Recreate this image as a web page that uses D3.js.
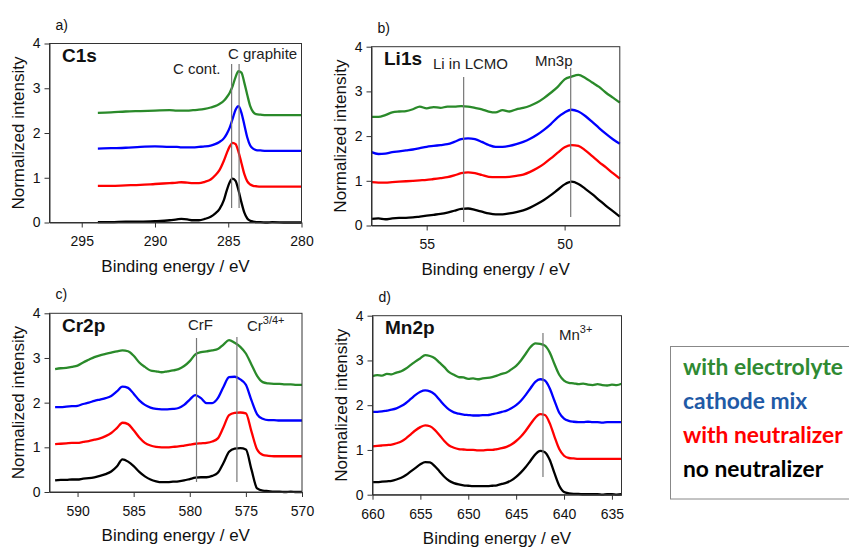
<!DOCTYPE html>
<html>
<head>
<meta charset="utf-8">
<script src="https://cdn.jsdelivr.net/npm/d3@7"></script>
<style>
  html, body { margin: 0; padding: 0; background: #fff; }
  svg { display: block; font-family: "Liberation Sans", Arial, sans-serif; }
</style>
</head>
<body>
<svg id="chart" width="849" height="547"></svg>
<script>
// ---------- series names and colours ----------
const seriesNames = ["no neutralizer", "with neutralizer", "cathode mix", "with electrolyte"];
const lineColors = ["#000000", "#ff0000", "#0000ff", "#2a8a2a"];
const legendNames = ["with electrolyte", "cathode mix", "with neutralizer", "no neutralizer"];
const legendColors = ["#2f8a32", "#1f5aa6", "#ff0000", "#000000"];

// ---------- a) C1s ----------
const c1sEnergy = [293.9, 293, 292, 291, 290, 289, 288.5, 288.2, 287.8, 287.4, 287, 286.6, 286.2, 285.9, 285.6, 285.3, 285.1, 284.9, 284.7, 284.5, 284.3, 284.1, 283.9, 283.7, 283.5, 283.3, 283.1, 282.8, 282.4, 282, 281, 280];
const c1sNoNeutralizer = [0.01, 0.01, 0.02, 0.02, 0.03, 0.05, 0.07, 0.08, 0.07, 0.05, 0.05, 0.08, 0.13, 0.2, 0.3, 0.5, 0.72, 0.9, 0.98, 0.93, 0.72, 0.45, 0.22, 0.09, 0.04, 0.02, 0.01, 0.01, 0.0, 0.01, 0.0, 0.0];
const c1sWithNeutralizer = [0.82, 0.82, 0.83, 0.84, 0.86, 0.88, 0.89, 0.9, 0.89, 0.88, 0.88, 0.91, 0.96, 1.05, 1.17, 1.38, 1.55, 1.7, 1.78, 1.75, 1.58, 1.33, 1.08, 0.92, 0.85, 0.82, 0.81, 0.8, 0.8, 0.8, 0.8, 0.8];
const c1sCathodeMix = [1.65, 1.66, 1.67, 1.69, 1.7, 1.69, 1.69, 1.68, 1.68, 1.68, 1.69, 1.7, 1.72, 1.75, 1.8, 1.88, 1.98, 2.12, 2.32, 2.52, 2.6, 2.45, 2.18, 1.9, 1.72, 1.65, 1.62, 1.61, 1.6, 1.6, 1.6, 1.6];
const c1sWithElectrolyte = [2.45, 2.46, 2.48, 2.49, 2.5, 2.51, 2.5, 2.5, 2.5, 2.51, 2.52, 2.54, 2.57, 2.6, 2.65, 2.72, 2.8, 2.9, 3.05, 3.25, 3.38, 3.35, 3.12, 2.85, 2.6, 2.47, 2.42, 2.41, 2.4, 2.4, 2.4, 2.4];
const c1sTicks = [295, 290, 285, 280];

// ---------- b) Li1s ----------
const li1sEnergy = [57, 56.75, 56.5, 56.25, 56, 55.75, 55.5, 55.25, 55, 54.75, 54.5, 54.25, 54, 53.75, 53.5, 53.25, 53, 52.75, 52.5, 52.25, 52, 51.75, 51.5, 51.25, 51, 50.75, 50.5, 50.25, 50, 49.75, 49.5, 49.25, 49, 48.75, 48.5, 48.25, 48];
const li1sNoNeutralizer = [0.15, 0.16, 0.14, 0.16, 0.17, 0.17, 0.18, 0.2, 0.22, 0.24, 0.26, 0.29, 0.33, 0.37, 0.38, 0.35, 0.31, 0.27, 0.25, 0.25, 0.27, 0.3, 0.34, 0.4, 0.48, 0.57, 0.68, 0.8, 0.92, 0.98, 0.93, 0.82, 0.7, 0.57, 0.44, 0.32, 0.2];
const li1sWithNeutralizer = [0.97, 0.96, 0.96, 0.97, 0.98, 0.99, 1.0, 1.01, 1.02, 1.04, 1.06, 1.08, 1.12, 1.17, 1.19, 1.17, 1.13, 1.09, 1.08, 1.08, 1.09, 1.11, 1.14, 1.2, 1.28, 1.38, 1.5, 1.63, 1.75, 1.8, 1.78, 1.68, 1.55, 1.42, 1.3, 1.17, 1.05];
const li1sCathodeMix = [1.64, 1.6, 1.61, 1.64, 1.66, 1.68, 1.7, 1.73, 1.76, 1.78, 1.8, 1.82, 1.87, 1.93, 1.95, 1.93, 1.87, 1.8, 1.76, 1.76, 1.78, 1.82, 1.87, 1.94, 2.03, 2.14, 2.27, 2.42, 2.53, 2.59, 2.55, 2.45, 2.32, 2.18, 2.05, 1.93, 1.83];
const li1sWithElectrolyte = [2.43, 2.43, 2.47, 2.53, 2.55, 2.56, 2.6, 2.66, 2.62, 2.65, 2.63, 2.66, 2.66, 2.67, 2.66, 2.63, 2.6, 2.55, 2.53, 2.58, 2.55, 2.6, 2.63, 2.68, 2.75, 2.85, 2.97, 3.1, 3.27, 3.33, 3.37, 3.3, 3.2, 3.1, 2.97, 2.86, 2.75];
const li1sTicks = [55, 50];

// ---------- c) Cr2p ----------
const cr2pEnergy = [592, 591.5, 591, 590.5, 590, 589.5, 589, 588.5, 588, 587.5, 587, 586.5, 586, 585.5, 585, 584.5, 584, 583.5, 583, 582.5, 582, 581.5, 581, 580.5, 580, 579.5, 579, 578.5, 578, 577.5, 577, 576.5, 576, 575.5, 575, 574.5, 574, 573.5, 573, 572.5, 572, 571.5, 571, 570.5, 570];
const cr2pNoNeutralizer = [0.26, 0.27, 0.27, 0.28, 0.28, 0.3, 0.31, 0.33, 0.36, 0.4, 0.46, 0.57, 0.73, 0.68, 0.58, 0.45, 0.35, 0.28, 0.24, 0.22, 0.22, 0.23, 0.24, 0.26, 0.29, 0.32, 0.33, 0.33, 0.36, 0.43, 0.65, 0.9, 0.97, 0.98, 0.95, 0.5, 0.08, 0.03, 0.02, 0.01, 0.01, 0.0, 0.01, 0.0, 0.0];
const cr2pWithNeutralizer = [1.07, 1.08, 1.09, 1.1, 1.1, 1.12, 1.14, 1.17, 1.2, 1.25, 1.32, 1.43, 1.55, 1.52, 1.38, 1.22, 1.1, 1.04, 1.01, 1.0, 1.0, 1.01, 1.02, 1.04, 1.06, 1.08, 1.09, 1.1, 1.13, 1.2, 1.45, 1.72, 1.77, 1.78, 1.76, 1.35, 0.95, 0.83, 0.81, 0.8, 0.8, 0.8, 0.8, 0.8, 0.8];
const cr2pCathodeMix = [1.9, 1.9, 1.91, 1.92, 1.93, 1.97, 2.0, 2.04, 2.07, 2.1, 2.15, 2.25, 2.36, 2.33, 2.2, 2.05, 1.95, 1.89, 1.86, 1.85, 1.85, 1.86, 1.88, 1.95, 2.07, 2.17, 2.1, 1.99, 1.99, 2.1, 2.35, 2.57, 2.58, 2.52, 2.4, 2.05, 1.74, 1.64, 1.61, 1.61, 1.6, 1.6, 1.6, 1.6, 1.6];
const cr2pWithElectrolyte = [2.75, 2.77, 2.78, 2.8, 2.83, 2.9, 2.96, 3.02, 3.06, 3.09, 3.12, 3.15, 3.17, 3.15, 3.05, 2.9, 2.8, 2.72, 2.7, 2.68, 2.7, 2.72, 2.75, 2.82, 2.93, 3.08, 3.13, 3.15, 3.17, 3.2, 3.3, 3.4, 3.34, 3.25, 3.1, 2.85, 2.6, 2.46, 2.43, 2.42, 2.42, 2.41, 2.41, 2.4, 2.4];
const cr2pTicks = [590, 585, 580, 575, 570];

// ---------- d) Mn2p ----------
const mn2pEnergy = [660, 659.5, 659, 658.5, 658, 657.5, 657, 656.5, 656, 655.5, 655, 654.5, 654, 653.5, 653, 652.5, 652, 651.5, 651, 650.5, 650, 649.5, 649, 648.5, 648, 647.5, 647, 646.5, 646, 645.5, 645, 644.5, 644, 643.5, 643, 642.5, 642, 641.5, 641, 640.5, 640, 639.5, 639, 638.5, 638, 637.5, 637, 636.5, 636, 635.5, 635, 634.5, 634];
const mn2pNoNeutralizer = [0.28, 0.28, 0.29, 0.3, 0.31, 0.34, 0.38, 0.44, 0.52, 0.6, 0.68, 0.73, 0.72, 0.64, 0.52, 0.4, 0.31, 0.26, 0.23, 0.21, 0.2, 0.19, 0.19, 0.19, 0.19, 0.2, 0.21, 0.24, 0.27, 0.32, 0.4, 0.5, 0.62, 0.76, 0.9, 0.98, 0.95, 0.78, 0.48, 0.2, 0.06, 0.03, 0.02, 0.02, 0.01, 0.01, 0.01, 0.01, 0.0, 0.01, 0.01, 0.0, 0.01];
const mn2pWithNeutralizer = [1.08, 1.09, 1.1, 1.11, 1.12, 1.15, 1.19, 1.26, 1.35, 1.44, 1.51, 1.55, 1.53, 1.45, 1.33, 1.2, 1.1, 1.05, 1.02, 1.01, 1.0, 1.0, 0.99, 0.99, 1.0, 1.0, 1.02, 1.04, 1.07, 1.12, 1.2, 1.3, 1.43, 1.58, 1.72, 1.8, 1.78, 1.6, 1.3, 1.02, 0.87, 0.82, 0.81, 0.8, 0.8, 0.8, 0.8, 0.8, 0.8, 0.8, 0.8, 0.8, 0.8];
const mn2pCathodeMix = [1.85, 1.85, 1.86, 1.88, 1.9, 1.93, 1.98, 2.05, 2.14, 2.23, 2.3, 2.33, 2.31, 2.24, 2.12, 2.0, 1.9, 1.84, 1.81, 1.79, 1.78, 1.77, 1.77, 1.78, 1.78, 1.8, 1.82, 1.85, 1.88, 1.93, 2.0, 2.1, 2.23, 2.38, 2.52, 2.58, 2.55, 2.38, 2.1, 1.83, 1.7, 1.65, 1.63, 1.62, 1.62, 1.63, 1.62, 1.62, 1.61, 1.62, 1.62, 1.62, 1.62];
const mn2pWithElectrolyte = [2.65, 2.67, 2.66, 2.7, 2.69, 2.73, 2.76, 2.82, 2.9, 2.98, 3.05, 3.12, 3.1, 3.05, 2.95, 2.85, 2.74, 2.68, 2.63, 2.62, 2.59, 2.6, 2.58, 2.6, 2.61, 2.63, 2.66, 2.7, 2.73, 2.8, 2.88, 3.0, 3.15, 3.3, 3.38, 3.37, 3.33, 3.18, 2.92, 2.68, 2.55, 2.5, 2.49, 2.47, 2.48, 2.46, 2.45, 2.47, 2.45, 2.44, 2.46, 2.45, 2.48];
const mn2pTicks = [660, 655, 650, 645, 640, 635];

const yTicks = [0, 1, 2, 3, 4];

// ---------- panel layout ----------
const panels = [
  { letter: "a)", name: "C1s", box: [49.5, 43.5, 301.5, 222.5], domain: [297.2, 280],
    energy: c1sEnergy, series: [c1sNoNeutralizer, c1sWithNeutralizer, c1sCathodeMix, c1sWithElectrolyte], ticks: c1sTicks,
    markers: [{ e: 284.77, y0: 64, y1: 208 }, { e: 284.26, y0: 64, y1: 208 }],
    notes: [{ t: "C cont.", x: 173, y: 74 }, { t: "C graphite", x: 228, y: 59 }] },
  { letter: "b)", name: "Li1s", box: [371.5, 46.7, 619.8, 225.5], domain: [57, 48],
    energy: li1sEnergy, series: [li1sNoNeutralizer, li1sWithNeutralizer, li1sCathodeMix, li1sWithElectrolyte], ticks: li1sTicks,
    markers: [{ e: 53.66, y0: 77, y1: 222 }, { e: 49.78, y0: 68, y1: 217 }],
    notes: [{ t: "Li in LCMO", x: 433, y: 69 }, { t: "Mn3p", x: 535, y: 66 }] },
  { letter: "c)", name: "Cr2p", box: [49.5, 313.3, 302, 492], domain: [592.5, 570],
    energy: cr2pEnergy, series: [cr2pNoNeutralizer, cr2pWithNeutralizer, cr2pCathodeMix, cr2pWithElectrolyte], ticks: cr2pTicks,
    markers: [{ e: 579.4, y0: 338, y1: 482 }, { e: 575.8, y0: 337, y1: 482 }],
    notes: [{ t: "CrF", x: 188, y: 330 }, { t: "Cr", sup: "3/4+", x: 247, y: 331 }] },
  { letter: "d)", name: "Mn2p", box: [372.5, 315.7, 621.5, 494.7], domain: [660, 634],
    energy: mn2pEnergy, series: [mn2pNoNeutralizer, mn2pWithNeutralizer, mn2pCathodeMix, mn2pWithElectrolyte], ticks: mn2pTicks,
    markers: [{ e: 642.2, y0: 333, y1: 477 }],
    notes: [{ t: "Mn", sup: "3+", x: 559, y: 340 }] }
];

const svg = d3.select("#chart");
const axisColor = "#333";

panels.forEach(p => {
  const [x0, y0, x1, y1] = p.box;
  const x = d3.scaleLinear().domain(p.domain).range([x0, x1]);
  const y = d3.scaleLinear().domain([0, 4]).range([y1, y0]);
  const g = svg.append("g");

  // spectra
  const line = d3.line().x(d => x(d[0])).y(d => y(d[1])).curve(d3.curveMonotoneX);
  p.series.forEach((vals, i) => {
    g.append("path")
      .datum(p.energy.map((e, k) => [e, vals[k]]))
      .attr("fill", "none")
      .attr("stroke", lineColors[i])
      .attr("stroke-width", 2.3)
      .attr("stroke-linejoin", "round")
      .attr("d", line);
  });

  // peak markers
  p.markers.forEach(m => {
    g.append("line")
      .attr("x1", x(m.e)).attr("x2", x(m.e))
      .attr("y1", m.y0).attr("y2", m.y1)
      .attr("stroke", "#777").attr("stroke-width", 1.2);
  });

  // frame
  g.append("rect")
    .attr("x", x0).attr("y", y0).attr("width", x1 - x0).attr("height", y1 - y0)
    .attr("fill", "none").attr("stroke", axisColor).attr("stroke-width", 1);

  // axes
  const xa = g.append("g").attr("transform", `translate(0,${y1})`)
    .call(d3.axisBottom(x).tickValues(p.ticks).tickFormat(d3.format("d")).tickSize(5).tickSizeOuter(0).tickPadding(9));
  const ya = g.append("g").attr("transform", `translate(${x0},0)`)
    .call(d3.axisLeft(y).tickValues(yTicks).tickFormat(d3.format("d")).tickSize(5).tickSizeOuter(0).tickPadding(4));
  [xa, ya].forEach(a => {
    a.select(".domain").attr("stroke", axisColor);
    a.selectAll(".tick line").attr("stroke", axisColor);
    a.selectAll(".tick text").attr("fill", "#111").style("font-size", "14px")
      .style("font-family", '"Liberation Sans", Arial, sans-serif');
  });

  // axis titles
  g.append("text")
    .attr("x", (x0 + x1) / 2).attr("y", y1 + 49)
    .attr("text-anchor", "middle").style("font-size", "17px").attr("fill", "#111")
    .text("Binding energy / eV");
  g.append("text")
    .attr("transform", `translate(${x0 - 26},${(y0 + y1) / 2}) rotate(-90)`)
    .attr("text-anchor", "middle").style("font-size", "17px").attr("fill", "#111")
    .text("Normalized intensity");

  // panel letter and element label
  g.append("text").attr("x", x0 + 6).attr("y", y0 - 14)
    .style("font-size", "14px").attr("fill", "#111").text(p.letter);
  g.append("text").attr("x", x0 + 12.5).attr("y", y0 + 18.5)
    .style("font-size", "19px").style("font-weight", "bold").attr("fill", "#111").text(p.name);

  // peak annotations
  p.notes.forEach(n => {
    const t = g.append("text").attr("x", n.x).attr("y", n.y)
      .style("font-size", "15px").attr("fill", "#222").text(n.t);
    if (n.sup) {
      t.append("tspan").attr("dy", -7).style("font-size", "11px").text(n.sup);
    }
  });
});

// legend
const lg = svg.append("g");
lg.append("rect").attr("x", 670.5).attr("y", 346.5).attr("width", 185).attr("height", 152.5)
  .attr("fill", "#fff").attr("stroke", "#888").attr("stroke-width", 1);
legendNames.forEach((name, i) => {
  lg.append("text")
    .attr("x", 683).attr("y", 375 + i * 33.9)
    .style("font-family", "Lato, 'Open Sans', sans-serif")
    .style("font-weight", "bold").style("font-size", "22.8px")
    .attr("fill", legendColors[i])
    .text(name);
});
</script>
</body>
</html>
